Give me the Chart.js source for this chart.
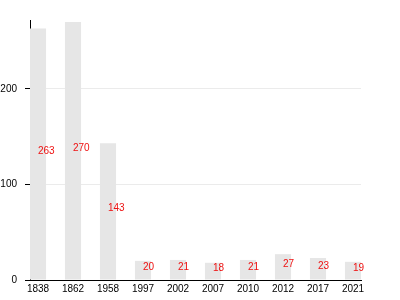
<!DOCTYPE html>
<html>
<head>
<meta charset="utf-8">
<script src="https://cdn.jsdelivr.net/npm/chart.js@4"></script>
<style>
  html, body { margin: 0; padding: 0; background: #fff; }
  #chart { display: block; }
</style>
</head>
<body>
<canvas id="chart" width="400" height="300"></canvas>
<script>
// years shown on the x axis
const years = ["1838", "1862", "1958", "1997", "2002", "2007", "2010", "2012", "2017", "2021"];
// value of each bar
const counts = [263, 270, 143, 20, 21, 18, 21, 27, 23, 19];
const yTicks = [0, 100, 200];

const FONT = "'Liberation Sans', Arial, sans-serif";

// red numbers drawn next to each bar, baseline at half height
const valueLabels = {
  id: "valueLabels",
  afterDatasetsDraw(chart) {
    const ctx = chart.ctx;
    const meta = chart.getDatasetMeta(0);
    ctx.save();
    ctx.fillStyle = "#ee1111";
    ctx.font = "10px " + FONT;
    ctx.textAlign = "left";
    ctx.textBaseline = "alphabetic";
    meta.data.forEach((bar, i) => {
      const midY = (bar.y + bar.base) / 2;
      ctx.fillText(String(counts[i]), bar.x, midY);
    });
    ctx.restore();
  }
};

new Chart(document.getElementById("chart"), {
  type: "bar",
  data: {
    datasets: [{
      data: counts.map((v, i) => ({ x: i, y: v })),
      backgroundColor: "#e6e6e6",
      borderWidth: 0,
      barPercentage: 0.46,
      categoryPercentage: 1
    }]
  },
  options: {
    responsive: false,
    animation: false,
    devicePixelRatio: 1,
    layout: { padding: { top: 20, right: 39, left: 0, bottom: 0 } },
    plugins: {
      legend: { display: false },
      tooltip: { enabled: false }
    },
    scales: {
      x: {
        type: "linear",
        offset: false,
        min: -0.2286,
        max: 9.2286,
        grid: { display: false, drawTicks: false, offset: false },
        border: { display: true, color: "#000", width: 1 },
        ticks: {
          autoSkip: false,
          maxRotation: 0,
          padding: 3,
          color: "#000",
          font: { size: 10, family: FONT },
          callback: v => years[v] !== undefined ? years[v] : ""
        },
        afterBuildTicks: s => { s.ticks = years.map((_, i) => ({ value: i })); },
        afterFit: s => { s.height = 20; }
      },
      y: {
        min: 0,
        max: 272,
        grid: { color: "#ebebeb", tickColor: "#000", tickLength: 5 },
        border: { display: true, color: "#000", width: 1 },
        ticks: {
          padding: 8,
          color: "#000",
          font: { size: 10, family: FONT },
          callback: v => String(v)
        },
        afterBuildTicks: s => { s.ticks = yTicks.map(v => ({ value: v })); },
        afterFit: s => { s.width = 30; }
      }
    }
  },
  plugins: [valueLabels]
});
</script>
</body>
</html>
